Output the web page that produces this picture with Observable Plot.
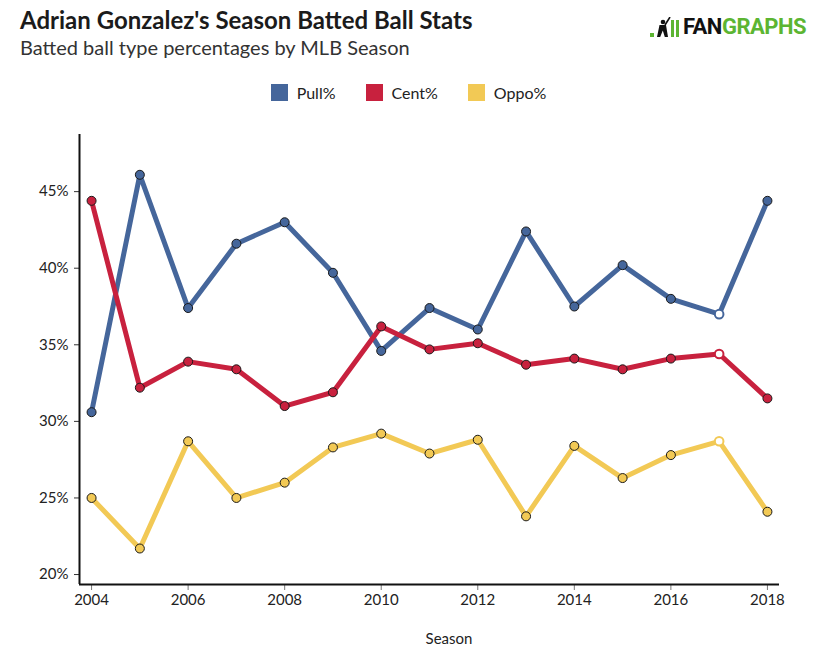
<!DOCTYPE html>
<html>
<head>
<meta charset="utf-8">
<script src="https://cdn.jsdelivr.net/npm/d3@7"></script>
<script src="https://cdn.jsdelivr.net/npm/@observablehq/plot@0.6"></script>
<style>
  html, body { margin: 0; padding: 0; background: #fff; }
  #wrap { position: relative; width: 817px; height: 650px; overflow: hidden; font-family: Lato, "Open Sans", sans-serif; }
  #title { position: absolute; left: 20px; top: 8px; font-size: 24px; font-weight: 700; color: #1b1b1b; line-height: 1; white-space: nowrap; }
  #subtitle { position: absolute; left: 20px; top: 37px; font-size: 20px; color: #333; line-height: 1; white-space: nowrap; }
  #logo { position: absolute; left: 650px; top: 16px; display: flex; align-items: flex-end; font-family: Roboto, sans-serif; font-weight: 700; font-size: 22px; line-height: 1; letter-spacing: -0.5px; }
  #logo .fan { color: #111; margin-left: 2px; }
  #logo .gr { color: #5cb532; }
  #legend { position: absolute; left: 0; top: 84px; width: 817px; display: flex; justify-content: center; align-items: center; font-size: 16px; color: #222; line-height: 17px; }
  #legend .item { display: flex; align-items: center; margin: 0 15px; }
  #legend .sw { width: 17px; height: 17px; margin-right: 9px; }
  #chart { position: absolute; left: 0; top: 115px; }
  #xlabel { position: absolute; left: 449px; top: 631px; transform: translateX(-50%); font-size: 15px; color: #222; line-height: 1; }
</style>
</head>
<body>
<div id="wrap">
  <div id="title">Adrian Gonzalez's Season Batted Ball Stats</div>
  <div id="subtitle">Batted ball type percentages by MLB Season</div>
  <div id="logo">
    <svg width="31" height="21" viewBox="0 0 31 21">
      <rect x="0" y="16" width="4" height="4" fill="#5cb532"/>
      <circle cx="13" cy="5" r="2.3" fill="#111"/>
      <path d="M9.5 8 L16 8 L18 20 L14.8 20 L12.8 13.5 L10.2 20 L7 20 Z" fill="#111"/>
      <line x1="15" y1="8" x2="20" y2="0" stroke="#111" stroke-width="1.6"/>
      <rect x="21" y="3" width="3" height="17" fill="#5cb532"/>
      <rect x="26" y="3" width="3" height="17" fill="#5cb532"/>
    </svg><span class="fan">FAN</span><span class="gr">GRAPHS</span>
  </div>
  <div id="legend"></div>
  <div id="chart"></div>
  <div id="xlabel">Season</div>
</div>
<script>
// ---- Data ----
const seasons = [2004, 2005, 2006, 2007, 2008, 2009, 2010, 2011, 2012, 2013, 2014, 2015, 2016, 2017, 2018];
const pullPct = [30.6, 46.1, 37.4, 41.6, 43.0, 39.7, 34.6, 37.4, 36.0, 42.4, 37.5, 40.2, 38.0, 37.0, 44.4];
const centPct = [44.4, 32.2, 33.9, 33.4, 31.0, 31.9, 36.2, 34.7, 35.1, 33.7, 34.1, 33.4, 34.1, 34.4, 31.5];
const oppoPct = [25.0, 21.7, 28.7, 25.0, 26.0, 28.3, 29.2, 27.9, 28.8, 23.8, 28.4, 26.3, 27.8, 28.7, 24.1];
const seriesNames = ["Pull%", "Cent%", "Oppo%"];
const seriesColors = ["#45669b", "#c8213e", "#f2c955"];
const hollowSeasons = [2017];
const xTicks = [2004, 2006, 2008, 2010, 2012, 2014, 2016, 2018];
const yTicks = [20, 25, 30, 35, 40, 45];
const xDomain = [2003.75, 2018.25];
const yDomain = [19.35, 48.73];

const seriesValues = [pullPct, centPct, oppoPct];

// ---- Legend ----
const legend = document.getElementById("legend");
seriesNames.forEach((name, i) => {
  const item = document.createElement("div");
  item.className = "item";
  const sw = document.createElement("div");
  sw.className = "sw";
  sw.style.background = seriesColors[i];
  const label = document.createElement("span");
  label.textContent = name;
  item.appendChild(sw);
  item.appendChild(label);
  legend.appendChild(item);
});

// ---- Marks ----
const seriesMarks = [];
seriesNames.forEach((name, i) => {
  const rows = seasons.map((s, j) => ({season: s, value: seriesValues[i][j], series: name}));
  const color = seriesColors[i];
  seriesMarks.push(
    Plot.line(rows, {x: "season", y: "value", stroke: color, strokeWidth: 5, strokeLinejoin: "round", strokeLinecap: "round"}),
    Plot.dot(rows.filter(d => !hollowSeasons.includes(d.season)), {x: "season", y: "value", r: 4.5, fill: color, stroke: "#1a1a1a", strokeWidth: 1}),
    Plot.dot(rows.filter(d => hollowSeasons.includes(d.season)), {x: "season", y: "value", r: 4.3, fill: "white", stroke: color, strokeWidth: 2})
  );
});

const chart = Plot.plot({
  width: 817,
  height: 500,
  marginLeft: 79,
  marginRight: 38,
  marginTop: 19,
  marginBottom: 31,
  style: {fontFamily: "Lato, sans-serif", fontSize: "15px", color: "#222", background: "white", overflow: "visible"},
  x: {domain: xDomain},
  y: {domain: yDomain},
  marks: [
    Plot.axisX({ticks: xTicks, tickFormat: d => String(d), tickSize: 6, tickPadding: 4, label: null, stroke: "#777", fill: "#222"}),
    Plot.axisY({ticks: yTicks, tickFormat: d => d + "%", tickSize: 5, tickPadding: 6, label: null, stroke: "#333", fill: "#222"}),
    ...seriesMarks,
    Plot.ruleX([xDomain[0]], {stroke: "#111", strokeWidth: 2}),
    Plot.ruleY([yDomain[0]], {stroke: "#111", strokeWidth: 2})
  ]
});
document.getElementById("chart").appendChild(chart);
</script>
</body>
</html>
